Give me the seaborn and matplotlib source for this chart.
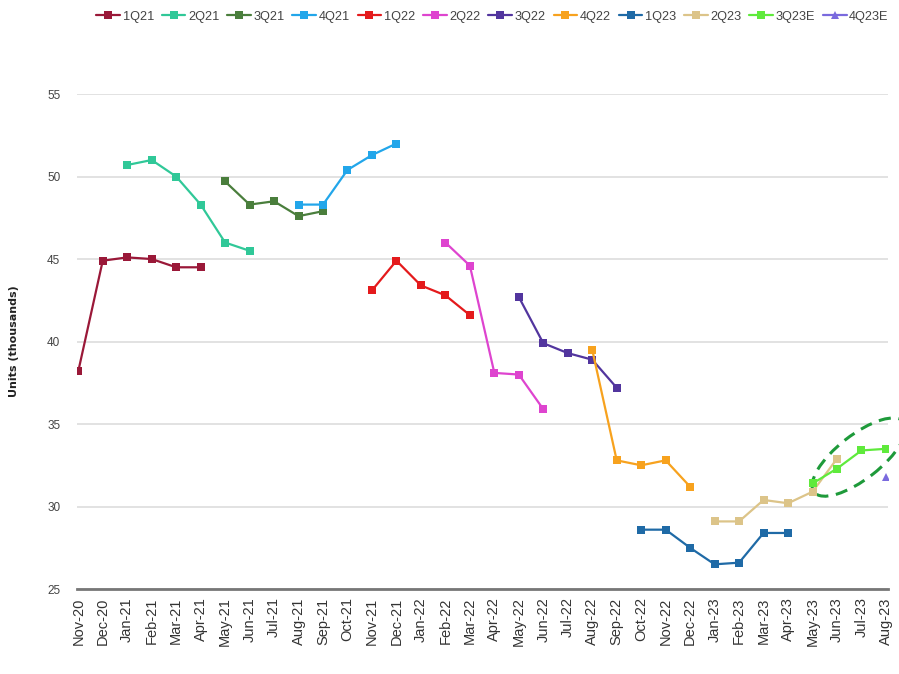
import matplotlib
matplotlib.use("Agg")
import matplotlib.pyplot as plt
import matplotlib.transforms as mtransforms
from matplotlib.patches import Ellipse
import seaborn as sns
import pandas as pd

months = ["Nov-20", "Dec-20", "Jan-21", "Feb-21", "Mar-21", "Apr-21", "May-21", "Jun-21",
          "Jul-21", "Aug-21", "Sep-21", "Oct-21", "Nov-21", "Dec-21", "Jan-22", "Feb-22",
          "Mar-22", "Apr-22", "May-22", "Jun-22", "Jul-22", "Aug-22", "Sep-22", "Oct-22",
          "Nov-22", "Dec-22", "Jan-23", "Feb-23", "Mar-23", "Apr-23", "May-23", "Jun-23",
          "Jul-23", "Aug-23"]

# each quarter's forecast: first month, then values
q1_21 = ("Nov-20", [38.2, 44.9, 45.1, 45.0, 44.5, 44.5])
q2_21 = ("Jan-21", [50.7, 51.0, 50.0, 48.3, 46.0, 45.5])
q3_21 = ("May-21", [49.7, 48.3, 48.5, 47.6, 47.9])
q4_21 = ("Aug-21", [48.3, 48.3, 50.4, 51.3, 52.0])
q1_22 = ("Nov-21", [43.1, 44.9, 43.4, 42.8, 41.6])
q2_22 = ("Feb-22", [46.0, 44.6, 38.1, 38.0, 35.9])
q3_22 = ("May-22", [42.7, 39.9, 39.3, 38.9, 37.2])
q4_22 = ("Aug-22", [39.5, 32.8, 32.5, 32.8, 31.2])
q1_23 = ("Oct-22", [28.6, 28.6, 27.5, 26.5, 26.6, 28.4, 28.4])
q2_23 = ("Jan-23", [29.1, 29.1, 30.4, 30.2, 30.9, 32.9])
q3_23e = ("May-23", [31.4, 32.3, 33.4, 33.5])
q4_23e = ("Aug-23", [31.8])

series = {"1Q21": q1_21, "2Q21": q2_21, "3Q21": q3_21, "4Q21": q4_21,
          "1Q22": q1_22, "2Q22": q2_22, "3Q22": q3_22, "4Q22": q4_22,
          "1Q23": q1_23, "2Q23": q2_23, "3Q23E": q3_23e, "4Q23E": q4_23e}
colors = {"1Q21": "#9a1838", "2Q21": "#30c898", "3Q21": "#4a7e3c", "4Q21": "#22a6ea",
          "1Q22": "#e41a1c", "2Q22": "#de44cf", "3Q22": "#52359e", "4Q22": "#f7a21e",
          "1Q23": "#1f6aa6", "2Q23": "#dcc489", "3Q23E": "#5fea3c", "4Q23E": "#7a6ade"}

rows = []
for name, (start, vals) in series.items():
    i0 = months.index(start)
    for k, v in enumerate(vals):
        rows.append({"series": name, "month": i0 + k, "units": v})
df = pd.DataFrame(rows)

sns.set_theme(style="white")
fig = plt.figure(figsize=(8.99, 6.74), dpi=100)
ax = fig.add_axes([0.0857, 0.126, 0.9025, 0.7345])

for name in series:
    d = df[df["series"] == name]
    sns.lineplot(data=d, x="month", y="units", ax=ax, color=colors[name],
                 marker="^" if name == "4Q23E" else "s", markersize=6,
                 markeredgewidth=0, linewidth=1.6, label=name)

ax.set_xlim(-0.05, 33.1)
ax.set_ylim(25, 55)
ax.set_yticks([25, 30, 35, 40, 45, 50, 55])
ax.set_xticks(range(len(months)))
ax.set_xticklabels(months, rotation=90, fontsize=10.5, color="#333333",
                   family=["Liberation Sans", "DejaVu Sans"])
for lab in ax.get_yticklabels():
    lab.set_family(["Liberation Sans", "DejaVu Sans"])
    lab.set_fontsize(8.5)
    lab.set_color("#444444")
ax.tick_params(axis="both", length=0, pad=6)
ax.tick_params(axis="y", pad=12)
ax.yaxis.grid(True, color="#dddddd", linewidth=1.2)
ax.set_axisbelow(True)
for s in ["left", "right", "top"]:
    ax.spines[s].set_visible(False)
ax.spines["bottom"].set_color("#777777")
ax.spines["bottom"].set_linewidth(2)
ax.set_xlabel("")
ax.set_ylabel("Units (thousands)", fontsize=8, fontweight="bold", color="#222222", labelpad=20)

# dashed highlight around the latest estimates
trans = fig.dpi_scale_trans + mtransforms.ScaledTranslation(31.9, 33.0, ax.transData)
ax.add_patch(Ellipse((0, 0), 1.14, 0.44, angle=38, transform=trans, fill=False,
                     edgecolor="#1e9a3a", linestyle=(0, (4, 2.5)), linewidth=2.2,
                     clip_on=False))

leg = ax.legend(loc="center", bbox_to_anchor=(0.512, 1.156), ncol=12, frameon=False,
                handlelength=1.85, handletextpad=0.2, columnspacing=0.62,
                borderpad=0, prop={"family": ["Liberation Sans", "DejaVu Sans"], "size": 9.2})
for t in leg.get_texts():
    t.set_color("#444444")

fig.savefig("out.png", dpi=100)
